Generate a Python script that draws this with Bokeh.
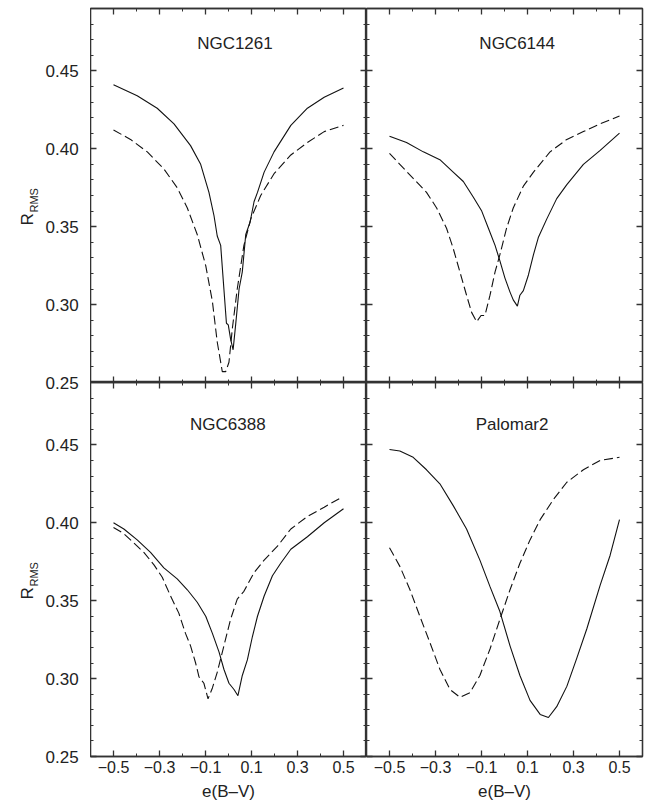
import math
from bokeh.plotting import figure
from bokeh.layouts import gridplot, row
from bokeh.models import FixedTicker, LinearAxis, Range1d, Label
from bokeh.embed import file_html
from bokeh.resources import INLINE

# ---------------- data ----------------
panel_names = ["NGC1261", "NGC6144", "NGC6388", "Palomar2"]

x_major = [-0.5, -0.3, -0.1, 0.1, 0.3, 0.5]
x_minor = [-0.4, -0.2, 0.0, 0.2, 0.4]
x_tick_labels = ["\u22120.5", "\u22120.3", "\u22120.1", "0.1", "0.3", "0.5"]
y_major = [0.25, 0.30, 0.35, 0.40, 0.45]
y_minor = [0.26, 0.27, 0.28, 0.29, 0.31, 0.32, 0.33, 0.34, 0.36, 0.37, 0.38, 0.39,
           0.41, 0.42, 0.43, 0.44, 0.46, 0.47, 0.48]
y_tick_labels = ["0.25", "0.30", "0.35", "0.40", "0.45"]
y_min, y_max = 0.25, 0.49

ngc1261_solid_x = [-0.5, -0.397, -0.31, -0.237, -0.165, -0.121, -0.085, -0.063, -0.049, -0.034,
                   -0.02, -0.009, -0.001, 0.009, 0.02, 0.031, 0.046, 0.06, 0.075, 0.094, 0.111,
                   0.126, 0.155, 0.198, 0.271, 0.343, 0.416, 0.5]
ngc1261_solid_y = [0.441, 0.434, 0.426, 0.416, 0.402, 0.390, 0.372, 0.357, 0.344, 0.338,
                   0.310, 0.288, 0.287, 0.278, 0.271, 0.287, 0.310, 0.321, 0.345, 0.353, 0.366,
                   0.372, 0.385, 0.398, 0.415, 0.426, 0.433, 0.439]
ngc1261_dash_x = [-0.5, -0.426, -0.353, -0.281, -0.223, -0.179, -0.136, -0.099, -0.07, -0.049,
                  -0.027, -0.012, 0.002, 0.017, 0.038, 0.067, 0.097, 0.14, 0.198, 0.271, 0.343,
                  0.416, 0.5]
ngc1261_dash_y = [0.412, 0.406, 0.398, 0.387, 0.375, 0.362, 0.345, 0.325, 0.302, 0.276,
                  0.257, 0.257, 0.263, 0.285, 0.310, 0.338, 0.355, 0.370, 0.384, 0.396, 0.404,
                  0.411, 0.415]

ngc6144_solid_x = [-0.5, -0.426, -0.353, -0.281, -0.223, -0.179, -0.136, -0.099, -0.07, -0.041,
                   -0.02, 0.002, 0.024, 0.038, 0.056, 0.067, 0.082, 0.104, 0.126, 0.147, 0.184,
                   0.227, 0.271, 0.343, 0.416, 0.5]
ngc6144_solid_y = [0.408, 0.404, 0.398, 0.393, 0.385, 0.379, 0.369, 0.360, 0.349, 0.338,
                   0.328, 0.317, 0.308, 0.303, 0.299, 0.306, 0.309, 0.319, 0.332, 0.343, 0.355,
                   0.368, 0.377, 0.390, 0.399, 0.410]
ngc6144_dash_x = [-0.5, -0.455, -0.397, -0.339, -0.295, -0.252, -0.223, -0.194, -0.165, -0.143,
                  -0.121, -0.102, -0.085, -0.063, -0.041, -0.02, 0.009, 0.038, 0.082, 0.126,
                  0.198, 0.271, 0.343, 0.416, 0.5]
ngc6144_dash_y = [0.397, 0.390, 0.381, 0.372, 0.362, 0.349, 0.336, 0.321, 0.306, 0.295,
                  0.289, 0.293, 0.293, 0.306, 0.321, 0.332, 0.349, 0.362, 0.376, 0.385,
                  0.398, 0.406, 0.411, 0.416, 0.421]

ngc6388_solid_x = [-0.5, -0.455, -0.397, -0.339, -0.281, -0.223, -0.179, -0.136, -0.099, -0.07,
                   -0.041, -0.02, 0.002, 0.024, 0.041, 0.06, 0.082, 0.104, 0.126, 0.155, 0.191,
                   0.227, 0.271, 0.343, 0.416, 0.5]
ngc6388_solid_y = [0.400, 0.396, 0.389, 0.381, 0.371, 0.364, 0.357, 0.349, 0.340, 0.329,
                   0.317, 0.306, 0.297, 0.293, 0.289, 0.302, 0.312, 0.327, 0.340, 0.353, 0.366,
                   0.374, 0.383, 0.391, 0.400, 0.409]
ngc6388_dash_x = [-0.5, -0.455, -0.397, -0.368, -0.324, -0.288, -0.252, -0.216, -0.187, -0.165,
                  -0.143, -0.128, -0.107, -0.089, -0.07, -0.049, -0.02, 0.009, 0.038, 0.067,
                  0.111, 0.155, 0.213, 0.271, 0.343, 0.416, 0.488]
ngc6388_dash_y = [0.397, 0.393, 0.385, 0.381, 0.373, 0.365, 0.353, 0.342, 0.329, 0.321,
                  0.310, 0.301, 0.297, 0.287, 0.294, 0.304, 0.321, 0.338, 0.351, 0.356,
                  0.368, 0.376, 0.385, 0.396, 0.404, 0.410, 0.416]

palomar2_solid_x = [-0.5, -0.455, -0.397, -0.339, -0.281, -0.223, -0.165, -0.107, -0.063, -0.02,
                    0.024, 0.067, 0.111, 0.155, 0.191, 0.227, 0.271, 0.314, 0.358, 0.416,
                    0.459, 0.5]
palomar2_solid_y = [0.447, 0.446, 0.442, 0.434, 0.425, 0.411, 0.396, 0.376, 0.359, 0.343,
                    0.321, 0.302, 0.286, 0.277, 0.275, 0.282, 0.295, 0.313, 0.332, 0.360,
                    0.379, 0.402]
palomar2_dash_x = [-0.5, -0.455, -0.411, -0.368, -0.324, -0.281, -0.237, -0.194, -0.15, -0.107,
                   -0.063, -0.02, 0.024, 0.067, 0.111, 0.155, 0.213, 0.271, 0.343, 0.416, 0.5]
palomar2_dash_y = [0.384, 0.372, 0.357, 0.340, 0.323, 0.306, 0.293, 0.288, 0.291, 0.302,
                   0.319, 0.338, 0.357, 0.374, 0.389, 0.402, 0.415, 0.426, 0.434, 0.440, 0.442]

solid_x = [ngc1261_solid_x, ngc6144_solid_x, ngc6388_solid_x, palomar2_solid_x]
solid_y = [ngc1261_solid_y, ngc6144_solid_y, ngc6388_solid_y, palomar2_solid_y]
dash_x = [ngc1261_dash_x, ngc6144_dash_x, ngc6388_dash_x, palomar2_dash_x]
dash_y = [ngc1261_dash_y, ngc6144_dash_y, ngc6388_dash_y, palomar2_dash_y]

# ---------------- styling ----------------
FONT = "Liberation Sans"
FRAME = "#333333"
TXT = "#222222"

title_pos = [(0.028, 0.4675), (0.055, 0.4675), (-0.003, 0.463), (0.033, 0.463)]


def style_axis(ax, ticks, minor, labels, show_labels):
    ax.ticker = FixedTicker(ticks=ticks, minor_ticks=minor)
    ax.major_tick_in = 6
    ax.major_tick_out = 0
    ax.minor_tick_in = 3
    ax.minor_tick_out = 0
    ax.axis_line_color = FRAME
    ax.axis_line_width = 1.3
    ax.major_tick_line_color = FRAME
    ax.major_tick_line_width = 1.3
    ax.minor_tick_line_color = FRAME
    ax.minor_tick_line_width = 1.0
    if show_labels:
        ax.major_label_overrides = {t: l for t, l in zip(ticks, labels)}
        ax.major_label_text_font = FONT
        ax.major_label_text_font_size = "16px"
        ax.major_label_text_color = TXT
    else:
        ax.major_label_text_font_size = "0px"
        ax.major_label_text_color = None
        ax.major_label_standoff = 0


def make_panel(i):
    r, c = divmod(i, 2)
    left = c == 0
    bottom = r == 1
    w = 276 + (0 if left else 7)
    h = (8 if r == 0 else 0) + 374 + (48 if bottom else 0)
    p = figure(width=w, height=h, output_backend="svg", toolbar_location=None,
               x_range=Range1d(-0.6, 0.6), y_range=Range1d(y_min, y_max),
               x_axis_location=None, y_axis_location=None,
               min_border_left=0, min_border_right=0 if left else 7,
               min_border_top=8 if r == 0 else 0, min_border_bottom=48 if bottom else 0)
    p.outline_line_color = FRAME
    p.outline_line_width = 1.3
    p.grid.visible = False
    p.background_fill_color = "white"
    p.border_fill_color = "white"

    lax = LinearAxis()
    style_axis(lax, y_major, y_minor, y_tick_labels, False)
    p.add_layout(lax, "left")
    rax = LinearAxis()
    style_axis(rax, y_major, y_minor, y_tick_labels, False)
    p.add_layout(rax, "right")
    bax = LinearAxis()
    style_axis(bax, x_major, x_minor, x_tick_labels, bottom)
    if bottom:
        bax.major_label_standoff = 4
        bax.axis_label = "e(B\u2013V)"
        bax.axis_label_text_font = FONT
        bax.axis_label_text_font_size = "17px"
        bax.axis_label_text_font_style = "normal"
        bax.axis_label_text_color = TXT
        bax.axis_label_standoff = 6
    p.add_layout(bax, "below")
    tax = LinearAxis()
    style_axis(tax, x_major, x_minor, x_tick_labels, False)
    p.add_layout(tax, "above")

    p.line(solid_x[i], solid_y[i], line_color="#111111", line_width=1.1)
    p.line(dash_x[i], dash_y[i], line_color="#111111", line_width=1.1, line_dash="9 4")

    tx, ty = title_pos[i]
    p.add_layout(Label(x=tx, y=ty, text=panel_names[i], text_align="center",
                       text_baseline="middle", text_font=FONT, text_font_size="17px",
                       text_color=TXT))
    return p


panels = [make_panel(i) for i in range(4)]

# ---- shared left column: y tick labels for both rows and the R_RMS titles ----
span = y_max - y_min  # 0.24 per row
stack_ticks = []
stack_labels = {}
for row_offset in (0.0, span):
    for v, lab in zip(y_major, y_tick_labels):
        t = round(v - y_min + row_offset, 4)
        stack_ticks.append(t)
        stack_labels[t] = lab

lf = figure(width=90, height=804, output_backend="svg", toolbar_location=None,
            x_range=Range1d(0, 45), y_range=Range1d(0, 2 * span),
            x_axis_location=None, y_axis_location=None,
            min_border_left=0, min_border_right=45, min_border_top=8, min_border_bottom=48)
lf.outline_line_color = None
lf.grid.visible = False
lf.border_fill_color = "white"
lax = LinearAxis(ticker=FixedTicker(ticks=stack_ticks, minor_ticks=[]))
lax.major_label_overrides = stack_labels
lax.major_label_text_font = FONT
lax.major_label_text_font_size = "17px"
lax.major_label_text_color = TXT
lax.major_label_standoff = 0
lax.major_tick_in = 0
lax.major_tick_out = 0
lax.minor_tick_in = 0
lax.minor_tick_out = 0
lax.axis_line_color = None
lax.major_tick_line_color = None
lax.minor_tick_line_color = None
lf.add_layout(lax, "right")

for row_offset in (span, 0.0):
    lf.add_layout(Label(x=27, y=0.3408 - span + row_offset, text="R", angle=math.pi / 2,
                        text_align="left", text_baseline="alphabetic",
                        text_font=FONT, text_font_size="17px", text_color=TXT))
    lf.add_layout(Label(x=33.5, y=0.3491 - span + row_offset, text="RMS", angle=math.pi / 2,
                        text_align="left", text_baseline="alphabetic",
                        text_font=FONT, text_font_size="11px", text_color=TXT))

grid = gridplot([[panels[0], panels[1]], [panels[2], panels[3]]], toolbar_location=None)
layout = row(lf, grid)

open("out.html", "w").write(file_html(layout, INLINE))
